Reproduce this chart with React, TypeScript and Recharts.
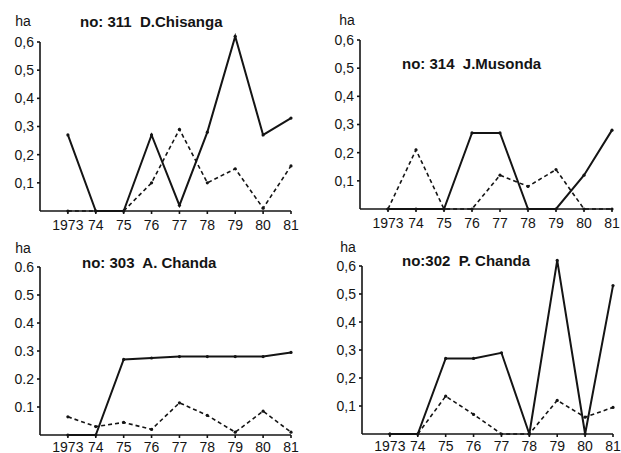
import { Line, LineChart, XAxis, YAxis } from "recharts";

const years = [1973, 1974, 1975, 1976, 1977, 1978, 1979, 1980, 1981];
const yearLabels = ["1973", "74", "75", "76", "77", "78", "79", "80", "81"];
const areaTicks = [0.1, 0.2, 0.3, 0.4, 0.5, 0.6];

const chisangaSolid = [0.27, 0, 0, 0.27, 0.02, 0.28, 0.62, 0.27, 0.33];
const chisangaDashed = [0, 0, 0, 0.1, 0.29, 0.1, 0.15, 0.01, 0.16];

const musondaSolid = [0, 0, 0, 0.27, 0.27, 0, 0, 0.12, 0.28];
const musondaDashed = [0, 0.21, 0, 0, 0.12, 0.08, 0.14, 0, 0];

const aChandaSolid = [0, 0, 0.27, 0.275, 0.28, 0.28, 0.28, 0.28, 0.295];
const aChandaDashed = [0.065, 0.03, 0.045, 0.02, 0.115, 0.07, 0.01, 0.085, 0.01];

const pChandaSolid = [0, 0, 0.27, 0.27, 0.29, 0, 0.62, 0, 0.53];
const pChandaDashed = [0, 0, 0.135, 0.07, 0, 0, 0.12, 0.06, 0.095];

const FONT = "'Liberation Sans', Arial, sans-serif";
const INK = "#141414";

type PanelProps = {
  solid: number[];
  dashed: number[];
  decimal: string;
  // plot geometry in page pixels
  axisX: number;
  rightX: number;
  topY: number;
  bottomY: number;
  labelGap: number;
};

const Panel = ({ solid, dashed, decimal, axisX, rightX, topY, bottomY, labelGap }: PanelProps) => {
  const rows = years.map((year, i) => ({ year, solid: solid[i], dashed: dashed[i] }));
  const padTop = 12;
  const padRight = 10;
  const yAxisW = 40;
  const xAxisH = 26;
  const width = rightX - axisX + yAxisW + padRight;
  const height = bottomY - topY + padTop + xAxisH;

  return (
    <div style={{ position: "absolute", left: axisX - yAxisW, top: topY - padTop }}>
      <LineChart
        width={width}
        height={height}
        data={rows}
        margin={{ top: padTop, right: padRight, left: 0, bottom: 0 }}
      >
        <XAxis
          dataKey="year"
          type="number"
          domain={[1972, 1981]}
          ticks={years}
          interval={0}
          tickFormatter={(v: number) => yearLabels[years.indexOf(v)]}
          height={xAxisH}
          tickSize={3}
          tickMargin={labelGap}
          stroke={INK}
          strokeWidth={1.6}
          tick={{ fill: INK, fontSize: 14, fontFamily: FONT }}
        />
        <YAxis
          type="number"
          domain={[0, 0.6]}
          allowDataOverflow
          ticks={areaTicks}
          interval={0}
          tickFormatter={(v: number) => v.toFixed(1).replace(".", decimal)}
          width={yAxisW}
          tickSize={3}
          tickMargin={3}
          stroke={INK}
          strokeWidth={1.6}
          tick={{ fill: INK, fontSize: 14, fontFamily: FONT }}
        />
        <Line
          dataKey="dashed"
          type="linear"
          stroke={INK}
          strokeWidth={1.6}
          strokeDasharray="4 3"
          dot={{ r: 1.6, fill: INK, stroke: "none" }}
          isAnimationActive={false}
        />
        <Line
          dataKey="solid"
          type="linear"
          stroke={INK}
          strokeWidth={2}
          dot={{ r: 1.6, fill: INK, stroke: "none" }}
          isAnimationActive={false}
        />
      </LineChart>
    </div>
  );
};

const labels = [
  { text: "ha", x: 23, y: 21, bold: false },
  { text: "no: 311  D.Chisanga", x: 80, y: 21, bold: true },
  { text: "ha", x: 347, y: 20, bold: false },
  { text: "no: 314  J.Musonda", x: 402, y: 63, bold: true },
  { text: "ha", x: 23, y: 248, bold: false },
  { text: "no: 303  A. Chanda", x: 82, y: 262, bold: true },
  { text: "ha", x: 348, y: 247, bold: false },
  { text: "no:302  P. Chanda", x: 402, y: 260, bold: true }
];

const App = () => (
  <div
    style={{
      position: "absolute",
      left: 0,
      top: 0,
      width: 621,
      height: 453,
      background: "#fff",
      overflow: "hidden",
      fontFamily: FONT
    }}
  >
    <style>{`.recharts-surface [clip-path] { clip-path: none !important; }`}</style>
    <Panel solid={chisangaSolid} dashed={chisangaDashed} decimal="," axisX={40} rightX={291} topY={42} bottomY={211} labelGap={6} />
    <Panel solid={musondaSolid} dashed={musondaDashed} decimal="," axisX={360} rightX={612} topY={40} bottomY={209} labelGap={6} />
    <Panel solid={aChandaSolid} dashed={aChandaDashed} decimal="." axisX={40} rightX={291} topY={267} bottomY={435} labelGap={4} />
    <Panel solid={pChandaSolid} dashed={pChandaDashed} decimal="," axisX={362} rightX={613} topY={266} bottomY={434} labelGap={4} />
    <svg width={621} height={453} style={{ position: "absolute", left: 0, top: 0, pointerEvents: "none" }}>
      {labels.map((l) => (
        <text
          key={l.text + l.x + l.y}
          x={l.x}
          y={l.y}
          dominantBaseline="central"
          textAnchor={l.bold ? "start" : "middle"}
          fontSize={l.bold ? 15 : 14}
          fontWeight={l.bold ? 700 : 400}
          fontFamily={FONT}
          fill={INK}
          style={{ whiteSpace: "pre" }}
        >
          {l.text}
        </text>
      ))}
    </svg>
  </div>
);

export default App;
